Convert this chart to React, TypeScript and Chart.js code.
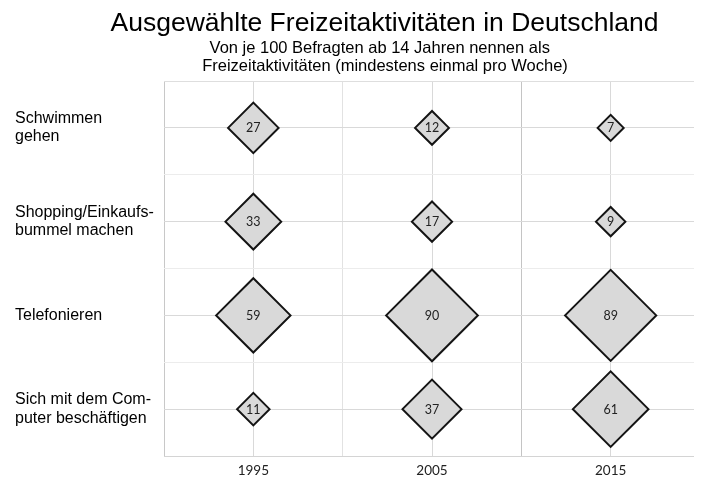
import React, { useEffect, useRef } from "react";
import { Chart, registerables } from "chart.js";

Chart.register(...registerables);

const titleText = "Ausgewählte Freizeitaktivitäten in Deutschland";
const subtitleLines = [
  "Von je 100 Befragten ab 14 Jahren nennen als ",
  "Freizeitaktivitäten (mindestens einmal pro Woche)",
];

const categories: string[][] = [
  ["Schwimmen", "gehen"],
  ["Shopping/Einkaufs-", "bummel machen"],
  ["Telefonieren"],
  ["Sich mit dem Com-", "puter beschäftigen"],
];

const years = ["1995", "2005", "2015"];

const values1995 = [27, 33, 59, 11];
const values2005 = [12, 17, 90, 37];
const values2015 = [7, 9, 89, 61];

const seriesValues = [values1995, values2005, values2015];

const radiusFor = (v: number) => 4.8 * Math.sqrt(v) + 0.3;

const titlePlugin = {
  id: "customTitle",
  afterDraw(chart: any) {
    const ctx = chart.ctx;
    ctx.save();
    ctx.fillStyle = "#000";
    ctx.textAlign = "center";
    ctx.textBaseline = "alphabetic";
    ctx.font = "26.5px 'Liberation Sans', Arial, sans-serif";
    ctx.fillText(titleText, 384.5, 31);
    ctx.font = "16.5px 'Liberation Sans', Arial, sans-serif";
    ctx.fillText(subtitleLines[0], 382, 53);
    ctx.fillText(subtitleLines[1], 385, 71);
    ctx.restore();
  },
};

const valueLabelPlugin = {
  id: "valueLabels",
  afterDatasetsDraw(chart: any) {
    const ctx = chart.ctx;
    ctx.save();
    ctx.fillStyle = "#222";
    ctx.textAlign = "center";
    ctx.textBaseline = "middle";
    ctx.font = "12.5px Lato, 'Open Sans', sans-serif";
    chart.data.datasets.forEach((ds: any, di: number) => {
      const meta = chart.getDatasetMeta(di);
      meta.data.forEach((el: any, i: number) => {
        ctx.fillText(String(seriesValues[di][i]), el.x, el.y + 0.5);
      });
    });
    ctx.restore();
  },
};

const zeroPadding = (scale: any) => {
  scale.paddingLeft = 0;
  scale.paddingRight = 0;
  scale.paddingTop = 0;
  scale.paddingBottom = 0;
};

export default function App() {
  const canvasRef = useRef<HTMLCanvasElement | null>(null);

  useEffect(() => {
    if (!canvasRef.current) return;
    const datasets = years.map((year, yi) => ({
      label: year,
      data: categories.map((_, ci) => ({ x: yi + 1, y: ci + 1 })),
      pointStyle: "rectRot" as const,
      pointRadius: seriesValues[yi].map(radiusFor),
      pointBackgroundColor: "#d9d9d9",
      pointBorderColor: "#141414",
      pointBorderWidth: 2,
      showLine: false,
      clip: false as any,
    }));

    const chart = new Chart(canvasRef.current, {
      type: "scatter",
      data: { datasets },
      plugins: [titlePlugin, valueLabelPlugin],
      options: {
        animation: false,
        responsive: false,
        events: [],
        layout: { autoPadding: false, padding: { left: 15, top: 81, right: 2, bottom: 0 } },
        plugins: {
          legend: { display: false },
          tooltip: { enabled: false },
          title: { display: false },
        },
        scales: {
          x: {
            type: "linear",
            min: 0.5,
            max: 3.5,
            afterFit: (scale: any) => {
              scale.height = 30;
              zeroPadding(scale);
            },
            border: { display: false },
            grid: {
              drawTicks: false,
              color: (ctx: any) => {
                const v = ctx.tick ? ctx.tick.value : 0;
                if (v === 0.5) return "#c8c8c8";
                if (v === 2.5) return "#c4c4c4";
                if (Number.isInteger(v)) return "#d9d9d9";
                return "#e2e2e2";
              },
            },
            ticks: {
              stepSize: 0.5,
              autoSkip: false,
              maxRotation: 0,
              padding: 7,
              color: "#222",
              font: { family: "Lato, 'Open Sans', sans-serif", size: 13.5 },
              callback: (val: any) => {
                const v = Number(val);
                return Number.isInteger(v) ? years[v - 1] : "";
              },
            },
          },
          y: {
            type: "linear",
            min: 0.5,
            max: 4.5,
            reverse: true,
            afterFit: (scale: any) => {
              scale.width = 149;
              zeroPadding(scale);
            },
            border: { display: false },
            grid: {
              drawTicks: false,
              color: (ctx: any) => {
                const v = ctx.tick ? ctx.tick.value : 0;
                if (v === 0.5) return "#dedede";
                if (v === 4.5) return "#d4d4d4";
                if (Number.isInteger(v)) return "#d9d9d9";
                return "#ececec";
              },
            },
            ticks: {
              stepSize: 0.5,
              autoSkip: false,
              crossAlign: "far",
              color: "#000",
              font: {
                family: "'Liberation Sans', Arial, sans-serif",
                size: 16,
                lineHeight: 1.15,
              },
              callback: (val: any) => {
                const v = Number(val);
                return Number.isInteger(v) ? categories[v - 1] : "";
              },
            },
          },
        },
      } as any,
    });

    return () => {
      chart.destroy();
    };
  }, []);

  return (
    <div style={{ margin: "-8px", width: 702, height: 486, position: "relative" }}>
      <canvas ref={canvasRef} width={702} height={486} style={{ display: "block" }} />
    </div>
  );
}
